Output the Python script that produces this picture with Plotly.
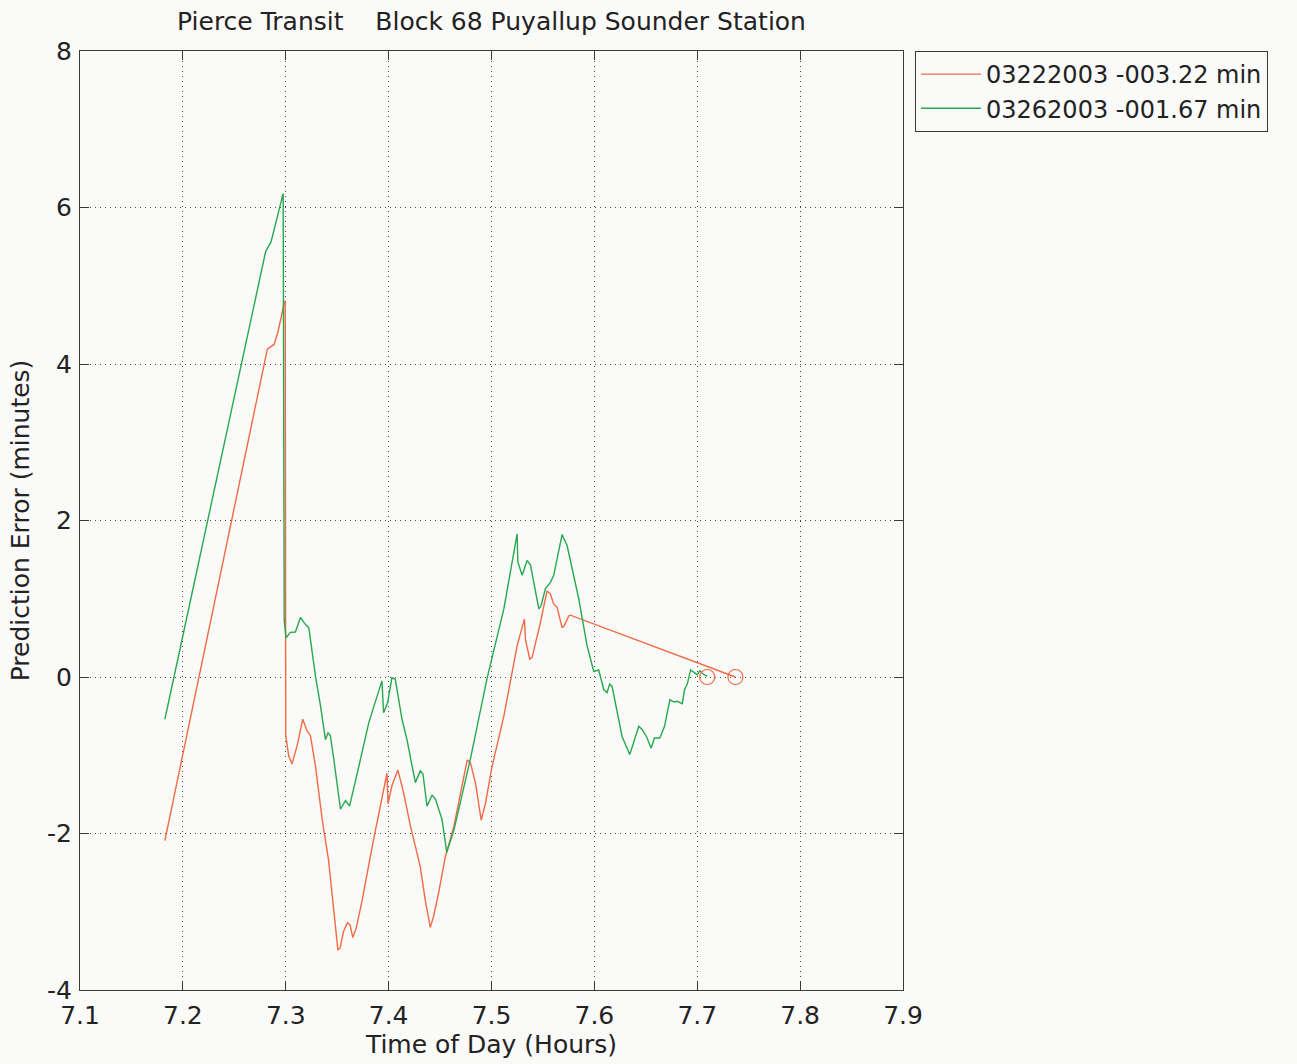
import plotly.graph_objects as go

# Prediction error traces for Block 68 (Puyallup Sounder Station)
time_0322 = [7.1825, 7.2821, 7.2886, 7.2920, 7.2960, 7.2985, 7.2995, 7.3000, 7.3029, 7.3061,
             7.3110, 7.3165, 7.3208, 7.3240, 7.3289, 7.3354, 7.3416, 7.3465, 7.3490, 7.3507,
             7.3529, 7.3562, 7.3600, 7.3626, 7.3652, 7.3685, 7.3740, 7.3853, 7.3984, 7.3994,
             7.4032, 7.4090, 7.4146, 7.4211, 7.4307, 7.4356, 7.4405, 7.4437, 7.4486, 7.4551,
             7.4634, 7.4764, 7.4796, 7.4845, 7.4900, 7.4942, 7.5006, 7.5120, 7.5249, 7.5320,
             7.5330, 7.5372, 7.5395, 7.5476, 7.5540, 7.5573, 7.5605, 7.5638, 7.5686, 7.5709,
             7.5751, 7.5767, 7.7371]
err_0322 = [-2.09, 4.19, 4.25, 4.39, 4.62, 4.80, 4.80, -0.75, -1.01, -1.11,
            -0.88, -0.54, -0.69, -0.75, -1.14, -1.82, -2.34, -2.98, -3.28, -3.49,
            -3.46, -3.25, -3.14, -3.17, -3.33, -3.21, -2.87, -2.08, -1.23, -1.62,
            -1.39, -1.19, -1.48, -1.90, -2.42, -2.85, -3.20, -3.06, -2.76, -2.30,
            -1.91, -1.06, -1.10, -1.36, -1.83, -1.61, -1.14, -0.50, 0.40, 0.74,
            0.48, 0.23, 0.25, 0.70, 1.10, 1.06, 0.93, 0.89, 0.63, 0.66,
            0.78, 0.79, 0.00]

time_0326 = [7.1825, 7.2805, 7.2857, 7.2900, 7.2975, 7.2985, 7.3003, 7.3045, 7.3094, 7.3143,
             7.3192, 7.3224, 7.3289, 7.3338, 7.3386, 7.3412, 7.3434, 7.3467, 7.3532, 7.3581,
             7.3620, 7.3711, 7.3808, 7.3935, 7.3951, 7.3990, 7.4032, 7.4065, 7.4130, 7.4178,
             7.4260, 7.4308, 7.4334, 7.4373, 7.4422, 7.4455, 7.4519, 7.4565, 7.4634, 7.4796,
             7.4958, 7.5120, 7.5249, 7.5256, 7.5298, 7.5346, 7.5379, 7.5460, 7.5482, 7.5524,
             7.5573, 7.5605, 7.5686, 7.5735, 7.5848, 7.5929, 7.5994, 7.6042, 7.6091, 7.6123,
             7.6149, 7.6172, 7.6221, 7.6269, 7.6344, 7.6383, 7.6432, 7.6464, 7.6506, 7.6552,
             7.6584, 7.6636, 7.6682, 7.6734, 7.6773, 7.6805, 7.6854, 7.6877, 7.6903, 7.6935,
             7.6968, 7.7000, 7.7026, 7.7065, 7.7097]
err_0326 = [-0.54, 5.44, 5.56, 5.78, 6.18, 0.72, 0.50, 0.57, 0.575, 0.76,
            0.67, 0.63, 0.01, -0.37, -0.80, -0.71, -0.75, -1.05, -1.69, -1.58,
            -1.65, -1.14, -0.58, -0.05, -0.456, -0.33, -0.01, -0.03, -0.54, -0.80,
            -1.35, -1.20, -1.24, -1.65, -1.51, -1.56, -1.82, -2.24, -1.96, -1.04,
            -0.01, 0.87, 1.83, 1.47, 1.30, 1.49, 1.43, 0.87, 0.91, 1.13,
            1.21, 1.30, 1.82, 1.68, 1.00, 0.40, 0.07, 0.09, -0.16, -0.20,
            -0.09, -0.12, -0.46, -0.76, -0.99, -0.84, -0.63, -0.67, -0.76, -0.91,
            -0.78, -0.78, -0.63, -0.29, -0.32, -0.31, -0.34, -0.16, -0.09, 0.09,
            0.06, 0.03, 0.08, 0.03, 0.01]

series_names = ["03222003 -003.22 min", "03262003 -001.67 min"]

# arrival points (end of each trace) marked with open circles
arrival_time = [time_0326[-1], time_0322[-1]]
arrival_err = [0.0, 0.0]

x_ticks = [7.1, 7.2, 7.3, 7.4, 7.5, 7.6, 7.7, 7.8, 7.9]
y_ticks = [-4, -2, 0, 2, 4, 6, 8]

ORANGE = "#f26a45"
GREEN = "#27a84f"
BG = "#fafaf8"
INK = "#222222"
FONT = "DejaVu Sans, Verdana, sans-serif"

fig = go.Figure()
fig.add_trace(go.Scatter(x=time_0322, y=err_0322, mode="lines", name=series_names[0],
                         line=dict(color=ORANGE, width=1.4)))
fig.add_trace(go.Scatter(x=time_0326, y=err_0326, mode="lines", name=series_names[1],
                         line=dict(color=GREEN, width=1.4)))
fig.add_trace(go.Scatter(x=arrival_time, y=arrival_err, mode="markers", showlegend=False,
                         marker=dict(symbol="circle-open", size=15, color=ORANGE,
                                     line=dict(width=1.2, color=ORANGE))))

axis_common = dict(
    showline=True, linecolor="#3a3a3a", linewidth=1, mirror="ticks",
    ticks="inside", ticklen=9, tickcolor="#3a3a3a", tickwidth=1,
    showgrid=True, gridcolor="#444444", griddash="1px,4px", gridwidth=1.2,
    zeroline=False,
    tickfont=dict(family=FONT, size=25, color=INK),
)

fig.update_xaxes(range=[7.1, 7.9], tickvals=x_ticks, ticktext=[f"{v:.1f}" for v in x_ticks],
                 ticklabelstandoff=3,
                 title=dict(text="Time of Day (Hours)", standoff=0,
                            font=dict(family=FONT, size=25, color=INK)),
                 **axis_common)
fig.update_yaxes(range=[-4, 8], tickvals=y_ticks, ticktext=[str(v) for v in y_ticks],
                 ticklabelstandoff=2,
                 title=dict(text="Prediction Error (minutes)", standoff=10,
                            font=dict(family=FONT, size=25, color=INK)),
                 **axis_common)

fig.update_layout(
    width=1297, height=1064,
    margin=dict(l=80, r=394, t=51, b=74),
    paper_bgcolor=BG, plot_bgcolor=BG,
    title=dict(text="Pierce Transit    Block 68 Puyallup Sounder Station",
               x=(80 + 903) / 2 / 1297, xanchor="center", y=1 - 21 / 1064, yanchor="middle",
               font=dict(family=FONT, size=25, color=INK)),
    legend=dict(x=1.0146, xanchor="left", y=1, yanchor="top",
                bgcolor=BG, bordercolor="#3a3a3a", borderwidth=1,
                font=dict(family=FONT, size=24, color=INK),
                itemwidth=60, tracegroupgap=0),
    showlegend=True,
)

fig.write_html("out.html")
